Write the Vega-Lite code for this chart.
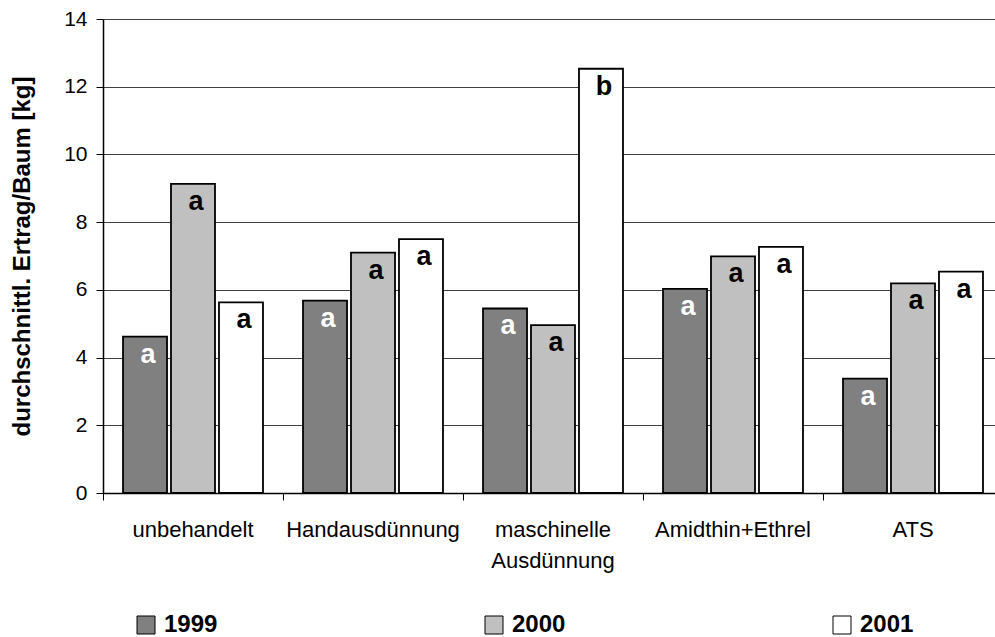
{
  "$schema": "https://vega.github.io/schema/vega-lite/v6.json",
  "width": 892,
  "height": 474,
  "autosize": {"type": "none"},
  "padding": {"left": 103, "top": 19, "right": 0, "bottom": 144},
  "background": "white",
  "config": {"view": {"stroke": null}, "font": "Liberation Sans"},
  "data": {
    "values": [
      {"treatment": "unbehandelt", "year": "1999", "value": 4.62, "sig": "a"},
      {"treatment": "unbehandelt", "year": "2000", "value": 9.13, "sig": "a"},
      {"treatment": "unbehandelt", "year": "2001", "value": 5.63, "sig": "a"},
      {"treatment": "Handausdünnung", "year": "1999", "value": 5.68, "sig": "a"},
      {"treatment": "Handausdünnung", "year": "2000", "value": 7.1, "sig": "a"},
      {"treatment": "Handausdünnung", "year": "2001", "value": 7.5, "sig": "a"},
      {"treatment": "maschinelle Ausdünnung", "year": "1999", "value": 5.45, "sig": "a"},
      {"treatment": "maschinelle Ausdünnung", "year": "2000", "value": 4.96, "sig": "a"},
      {"treatment": "maschinelle Ausdünnung", "year": "2001", "value": 12.53, "sig": "b"},
      {"treatment": "Amidthin+Ethrel", "year": "1999", "value": 6.03, "sig": "a"},
      {"treatment": "Amidthin+Ethrel", "year": "2000", "value": 6.99, "sig": "a"},
      {"treatment": "Amidthin+Ethrel", "year": "2001", "value": 7.27, "sig": "a"},
      {"treatment": "ATS", "year": "1999", "value": 3.38, "sig": "a"},
      {"treatment": "ATS", "year": "2000", "value": 6.19, "sig": "a"},
      {"treatment": "ATS", "year": "2001", "value": 6.54, "sig": "a"}
    ]
  },
  "encoding": {
    "x": {
      "field": "treatment",
      "type": "nominal",
      "sort": ["unbehandelt", "Handausdünnung", "maschinelle Ausdünnung", "Amidthin+Ethrel", "ATS"],
      "scale": {"range": [0, 900], "paddingInner": 0, "paddingOuter": 0},
      "axis": {
        "title": null,
        "bandPosition": 0,
        "labelAngle": 0,
        "labelFontSize": 22,
        "labelColor": "black",
        "labelPadding": 19,
        "labelLineHeight": 31,
        "labelExpr": "datum.value == 'maschinelle Ausdünnung' ? ['maschinelle', 'Ausdünnung'] : datum.value",
        "tickSize": 7,
        "tickColor": "black",
        "domainColor": "black",
        "domainWidth": 1.5,
        "grid": false
      }
    },
    "xOffset": {
      "field": "year",
      "type": "nominal",
      "scale": {"paddingInner": 0.083, "paddingOuter": 0.417}
    },
    "y": {
      "field": "value",
      "type": "quantitative",
      "scale": {"domain": [0, 14], "nice": false},
      "axis": {
        "title": "durchschnittl. Ertrag/Baum [kg]",
        "titleFontSize": 24,
        "titleFontWeight": "bold",
        "titleColor": "black",
        "titleX": -81,
        "titleY": 237,
        "titleAngle": -90,
        "titleAlign": "center",
        "titleBaseline": "middle",
        "values": [0, 2, 4, 6, 8, 10, 12, 14],
        "labelFontSize": 21,
        "labelColor": "black",
        "labelPadding": 9,
        "tickSize": 7,
        "tickColor": "black",
        "domainColor": "black",
        "domainWidth": 1.5,
        "grid": true,
        "gridColor": "#404040",
        "gridWidth": 1
      }
    }
  },
  "layer": [
    {
      "mark": {"type": "bar", "stroke": "black", "strokeWidth": 1.8},
      "encoding": {
        "color": {
          "field": "year",
          "type": "nominal",
          "scale": {"domain": ["1999", "2000", "2001"], "range": ["#808080", "#c0c0c0", "#ffffff"]},
          "legend": {
            "title": null,
            "orient": "none",
            "legendX": 31,
            "legendY": 594,
            "direction": "horizontal",
            "columns": 3,
            "columnPadding": 264,
            "symbolType": "square",
            "symbolSize": 324,
            "symbolStrokeColor": "black",
            "symbolStrokeWidth": 1,
            "symbolOpacity": 1,
            "labelFontSize": 24,
            "labelFontWeight": "bold",
            "labelColor": "black",
            "labelOffset": 6
          }
        }
      }
    },
    {
      "mark": {"type": "text", "baseline": "alphabetic", "align": "center", "dy": 26, "dx": 3, "fontSize": 27, "fontWeight": "bold"},
      "encoding": {
        "text": {"field": "sig"},
        "color": {"condition": {"test": "datum.year == '1999'", "value": "white"}, "value": "black"}
      }
    }
  ]
}
